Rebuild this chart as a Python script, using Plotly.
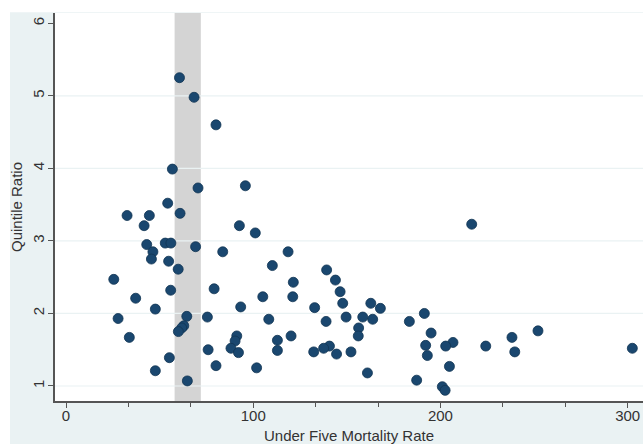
import plotly.graph_objects as go

# Under five mortality rate (x) and quintile ratio (y)
u5mr = [60.6, 68.4, 80.1, 56.8, 95.8, 70.5, 54.3, 60.9, 32.6, 44.5,
        216.7, 41.7, 92.6, 101.1, 53.0, 56.0, 43.1, 69.2, 46.4, 83.7,
        118.6, 45.6, 54.8, 110.2, 59.9, 139.2, 25.5, 143.9, 121.4, 79.1,
        55.9, 146.4, 105.1, 121.1, 37.2, 147.8, 162.8, 93.3, 132.8, 167.9,
        47.7, 191.4, 64.5, 75.5, 149.6, 158.5, 27.8, 108.3, 163.8, 138.9,
        183.4, 62.9, 61.8, 156.3, 60.0, 252.1, 195.0, 91.2, 120.2, 156.1,
        33.8, 238.2, 112.9, 90.3, 206.7, 192.1, 140.7, 202.8, 224.2, 88.1,
        137.6, 302.5, 75.9, 112.9, 132.3, 152.2, 239.7, 92.1, 144.5, 193.0,
        55.2, 80.1, 204.8, 101.8, 47.7, 161.0, 187.3, 64.8, 201.0, 202.5]
quintile_ratio = [5.25, 4.98, 4.60, 3.99, 3.76, 3.73, 3.52, 3.38, 3.35, 3.35,
                  3.23, 3.21, 3.21, 3.11, 2.97, 2.97, 2.95, 2.92, 2.85, 2.85,
                  2.85, 2.75, 2.72, 2.66, 2.61, 2.60, 2.47, 2.46, 2.43, 2.34,
                  2.32, 2.30, 2.23, 2.23, 2.21, 2.14, 2.14, 2.09, 2.08, 2.07,
                  2.06, 2.00, 1.96, 1.95, 1.95, 1.95, 1.93, 1.92, 1.92, 1.89,
                  1.89, 1.83, 1.80, 1.80, 1.75, 1.76, 1.73, 1.69, 1.69, 1.69,
                  1.67, 1.67, 1.63, 1.62, 1.60, 1.56, 1.55, 1.55, 1.55, 1.52,
                  1.52, 1.52, 1.50, 1.49, 1.47, 1.47, 1.47, 1.46, 1.44, 1.42,
                  1.39, 1.28, 1.27, 1.25, 1.21, 1.18, 1.08, 1.07, 0.99, 0.94]

band_range = [58, 72]
x_ticks = [0, 100, 200, 300]
y_ticks = [1, 2, 3, 4, 5, 6]
grid_y = [1, 2, 3, 4, 5]

BG = "#eaf2f3"
AX = "#555555"
TXT = "#333333"
FONT = "Liberation Sans, Arial, Helvetica, sans-serif"

fig = go.Figure()
fig.add_trace(go.Scatter(
    x=u5mr, y=quintile_ratio, mode="markers",
    marker=dict(size=10, color="#1a476f", line=dict(width=0.8, color="#123553")),
    showlegend=False, hoverinfo="x+y",
))

shapes = []
# gray vertical band
shapes.append(dict(type="rect", xref="x", yref="paper", x0=band_range[0], x1=band_range[1],
                   y0=0, y1=1, fillcolor="#d4d4d4", line=dict(width=0), layer="below"))
# horizontal grid lines
for g in grid_y:
    shapes.append(dict(type="line", xref="paper", yref="y", x0=0, x1=1, y0=g, y1=g,
                       line=dict(color=BG, width=1.2), layer="below"))
# white outer border (top and left)
W, H = 588.0, 388.0
shapes.append(dict(type="rect", xref="paper", yref="paper", x0=-55 / W, x1=1.01,
                   y0=1 + 0.7 / H, y1=1 + 14 / H, fillcolor="white", line=dict(width=0), layer="below"))
shapes.append(dict(type="rect", xref="paper", yref="paper", x0=-56 / W, x1=-45 / W,
                   y0=-44 / H, y1=1 + 14 / H, fillcolor="white", line=dict(width=0), layer="below"))

fig.update_layout(
    width=643, height=444, autosize=False,
    margin=dict(l=55, r=0, t=13, b=43),
    paper_bgcolor=BG, plot_bgcolor="white",
    font=dict(family=FONT, color=TXT, size=14),
    shapes=shapes,
    xaxis=dict(
        range=[-5.9, 308.2], tickvals=x_ticks, ticktext=[str(v) for v in x_ticks],
        showgrid=False, zeroline=False, showline=True, linecolor=AX, linewidth=1.5,
        ticks="outside", ticklen=5, tickcolor=AX, tickwidth=1.2,
        minor=dict(tick0=0, dtick=100 / 3, ticks="outside", ticklen=4, tickcolor=AX, tickwidth=1.2, showgrid=False),
        tickfont=dict(size=15, family=FONT, color=TXT),
        ticklabelstandoff=-5,
        title=dict(text="Under Five Mortality Rate", font=dict(size=15, family=FONT, color=TXT), standoff=8),
    ),
    yaxis=dict(
        range=[0.793, 6.142], tickvals=y_ticks, ticktext=[str(v) for v in y_ticks],
        showgrid=False, zeroline=False, showline=True, linecolor=AX, linewidth=1.5,
        ticks="outside", ticklen=5, tickcolor=AX, tickwidth=1.2, tickangle=-90,
        tickfont=dict(size=15, family=FONT, color=TXT),
        ticklabelstandoff=-2,
        title=dict(text="Quintile Ratio", font=dict(size=15, family=FONT, color=TXT), standoff=4),
    ),
)

fig.write_html("out.html", config={"displayModeBar": False},
               post_script="document.body.style.margin='0';document.body.style.overflow='hidden';")
